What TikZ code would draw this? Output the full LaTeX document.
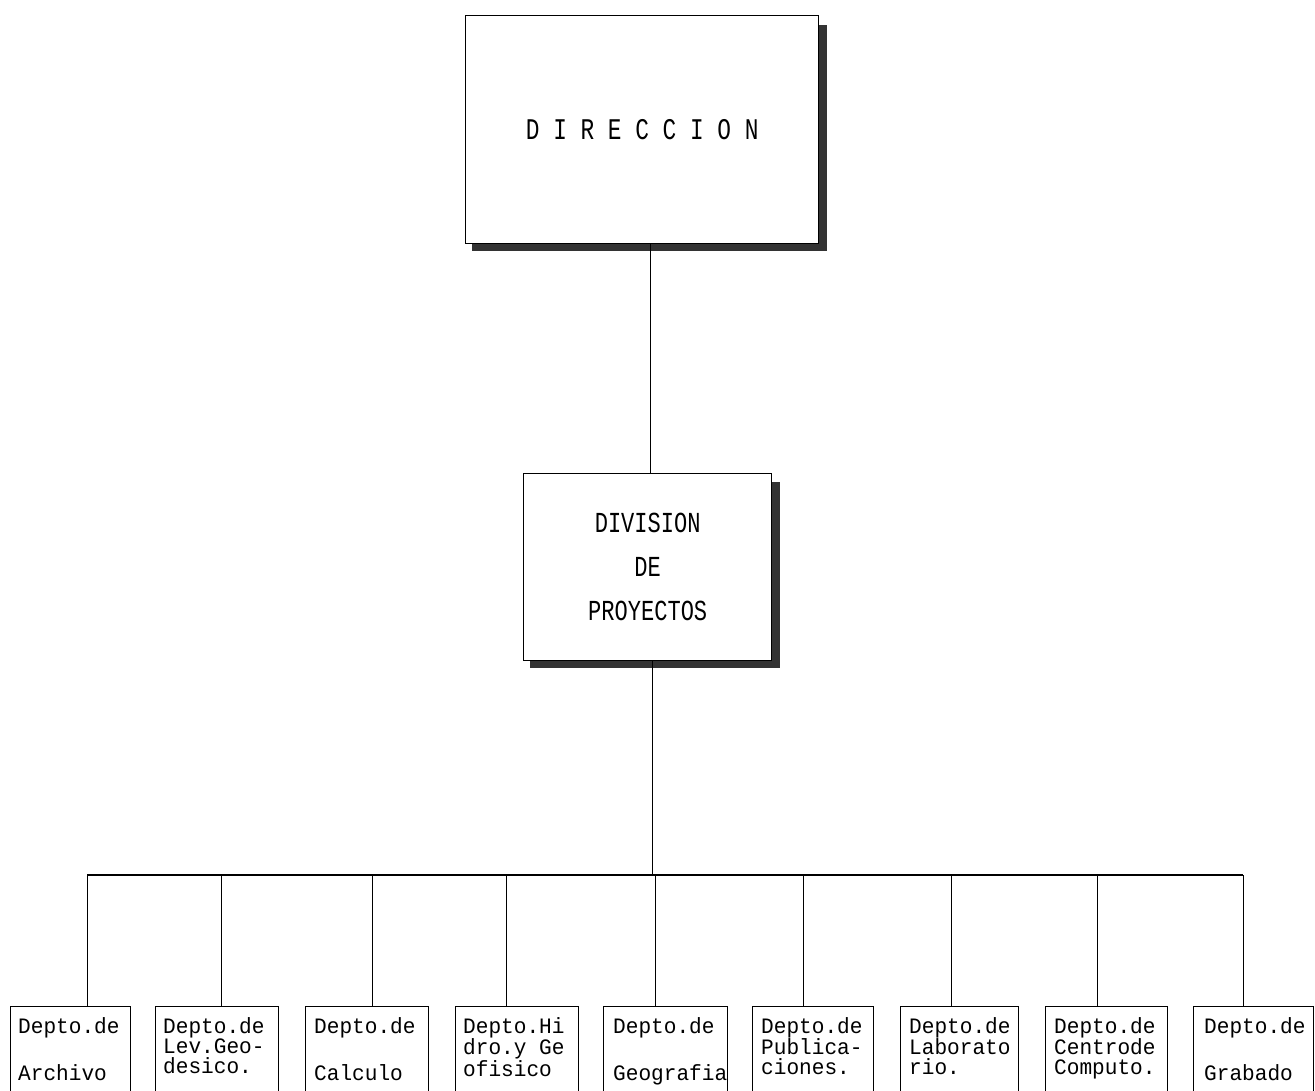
\documentclass[tikz,border=0pt]{standalone}
\usepackage{fontspec}
\newfontfamily\dotfont[FakeStretch=0.76]{Liberation Mono}
\newfontfamily\deptfont[FakeStretch=0.96]{Liberation Mono}
\begin{document}
\begin{tikzpicture}[x=1pt,y=-1pt,
  bigbox/.style={draw=black, line width=1.4pt, fill=white, inner sep=0pt, anchor=north west},
  shade/.style={fill=black!80},
  link/.style={draw=black, line width=0.8pt},
  dept/.style={draw=black, line width=1.2pt, anchor=north west, inner sep=0pt, minimum height=100pt},
  dtext/.style={anchor=north west, inner sep=0pt, align=left, font=\deptfont\fontsize{22}{20}\selectfont}]
\useasboundingbox (0,0) rectangle (1315,1091);
\clip (0,0) rectangle (1315,1091);

% shadows
\fill[shade] (818,25) rectangle (827,251);
\fill[shade] (472,243) rectangle (827,251);
\fill[shade] (771,482) rectangle (780,668);
\fill[shade] (530,660) rectangle (780,668);

\node[bigbox, minimum width=353pt, minimum height=228pt,
      font=\dotfont\fontsize{30}{36}\selectfont] (dir) at (465,15) {D I R E C C I O N};
\node[bigbox, minimum width=248pt, minimum height=187pt, align=center,
      font=\dotfont\fontsize{29}{44}\selectfont] (div) at (523,473) {DIVISION\\DE\\PROYECTOS};

\draw[link] ([xshift=8.5pt]dir.south) -- ([xshift=3pt]div.north);

\coordinate (j) at (652,875);
\draw[link] (div.south -| j) -- (j);

% department boxes
\node[dept, minimum width=120pt] (b1) at (10,1006) {};
\node[dept, minimum width=123pt] (b2) at (155,1006) {};
\node[dept, minimum width=123pt] (b3) at (305,1006) {};
\node[dept, minimum width=123pt] (b4) at (455,1006) {};
\node[dept, minimum width=124pt] (b5) at (603,1006) {};
\node[dept, minimum width=121pt] (b6) at (752,1006) {};
\node[dept, minimum width=118pt] (b7) at (900,1006) {};
\node[dept, minimum width=122pt] (b8) at (1045,1006) {};
\node[dept, minimum width=120pt] (b9) at (1193,1006) {};

\node[dtext] (t1) at ([shift={(8pt,-11pt)}]b1.north west) {Depto.de\\[26pt]Archivo};
\node[dtext] (t2) at ([shift={(8pt,-11pt)}]b2.north west) {Depto.de\\Lev.Geo-\\desico.};
\node[dtext] (t3) at ([shift={(9pt,-11pt)}]b3.north west) {Depto.de\\[26pt]Calculo};
\node[dtext] (t4) at ([shift={(8pt,-11pt)}]b4.north west) {Depto.Hi\\dro.y Ge\\ofisico};
\node[dtext] (t5) at ([shift={(10pt,-11pt)}]b5.north west) {Depto.de\\[26pt]Geografia};
\node[dtext] (t6) at ([shift={(9pt,-11pt)}]b6.north west) {Depto.de\\Publica-\\ciones.};
\node[dtext] (t7) at ([shift={(9pt,-11pt)}]b7.north west) {Depto.de\\Laborato\\rio.};
\node[dtext] (t8) at ([shift={(9pt,-11pt)}]b8.north west) {Depto.de\\Centrode\\Computo.};
\node[dtext] (t9) at ([shift={(11pt,-11pt)}]b9.north west) {Depto.de\\[26pt]Grabado};

% bus
\coordinate (h1) at (87,875);
\coordinate (h2) at (221,875);
\coordinate (h3) at (372,875);
\coordinate (h4) at (506,875);
\coordinate (h5) at (655,875);
\coordinate (h6) at (803,875);
\coordinate (h7) at (951,875);
\coordinate (h8) at (1097,875);
\coordinate (h9) at (1243,875);
\draw[link, line width=1.1pt] (h1) -- (h9);
\foreach \i in {1,...,9} {
  \draw[link] (h\i) -- (h\i |- b\i.north);
}
\end{tikzpicture}
\end{document}
